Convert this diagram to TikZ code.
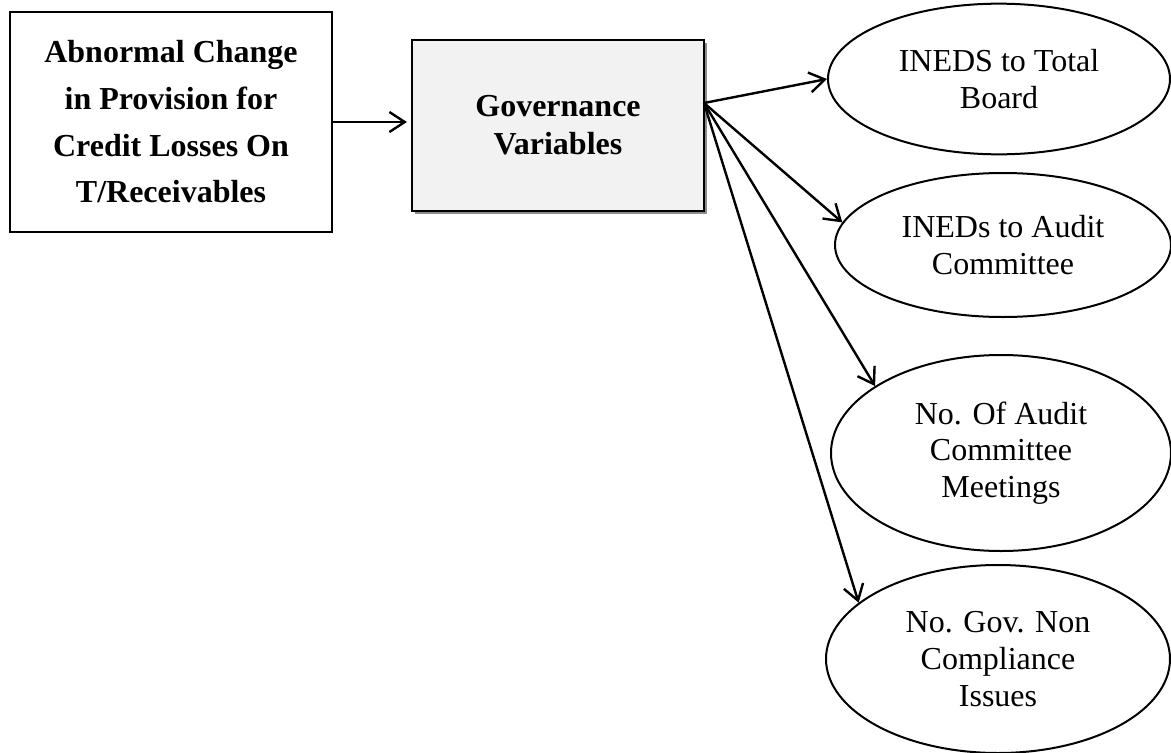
\documentclass[tikz,border=0pt]{standalone}
\usepackage{fontspec}
\setmainfont{Liberation Serif}
\usetikzlibrary{shapes.geometric,arrows.meta,shadows}
\begin{document}
\begin{tikzpicture}[x=0.75pt,y=-0.75pt,
  conn/.style={line width=1.8pt,-{Straight Barb[length=11.5pt,width=15pt,line width=1.8pt]}},
  boxa/.style={draw,line width=1.6pt,inner sep=0pt,align=center,font=\fontsize{24}{35}\selectfont\bfseries},
  govbox/.style={draw,line width=1.6pt,fill=black!5,inner sep=0pt,align=center,
    font=\fontsize{24}{28.5}\selectfont\bfseries,
    drop shadow={shadow xshift=2.25pt,shadow yshift=-2.25pt,fill=black!45,opacity=1}},
  ell/.style={ellipse,draw,line width=1.5pt,inner sep=0pt,align=center,font=\fontsize{24}{27.5}\selectfont}]
\useasboundingbox (0,0) rectangle (1171,753);
\node[boxa,minimum width=241.5pt,minimum height=165pt] (box1) at (171,122)
  {Abnormal Change\\in Provision for\\Credit Losses On\\T/Receivables};
\node[govbox,minimum width=219pt,minimum height=128.25pt] (gov) at (558,125.5)
  {Governance\\Variables};
\node[ell,minimum width=256.5pt,minimum height=113pt] (e1) at (999,79) {INEDS to Total\\Board};
\node[ell,minimum width=252pt,minimum height=108pt] (e2) at (1003,245) {INEDs to Audit\\Committee};
\node[ell,minimum width=255pt,minimum height=147pt] (e3) at (1001,453) {No. Of Audit\\Committee\\Meetings};
\node[ell,minimum width=258pt,minimum height=141pt] (e4) at (998,659) {No. Gov. Non\\Compliance\\Issues};
\coordinate (hub) at (704,103);
\draw[conn,shorten >=3pt] (box1.east) -- (box1.east -| gov.west);
\draw[conn] (hub) -- (e1.west);
\draw[conn] (hub) -- (e2.172);
\draw[conn] (hub) -- (e3.152);
\draw[conn] (hub) -- (e4.158);
\end{tikzpicture}
\end{document}
